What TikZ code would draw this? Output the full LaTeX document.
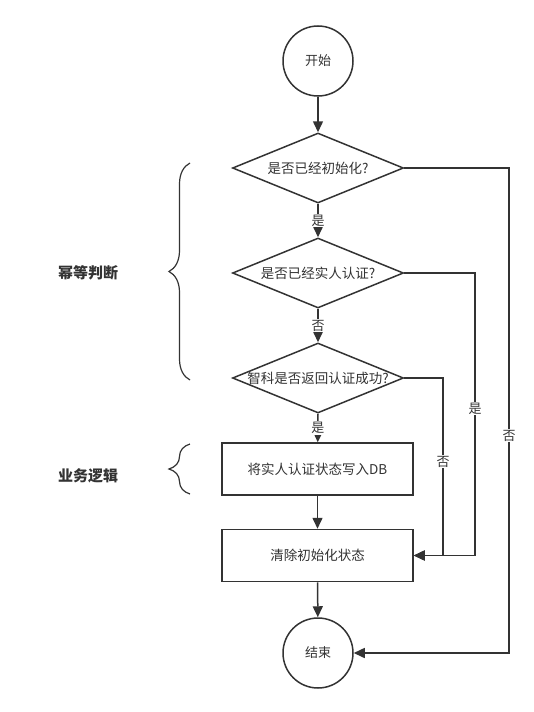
\documentclass[tikz,border=0pt]{standalone}
\usepackage{fontspec}
\setmainfont{Noto Sans CJK SC}
\usetikzlibrary{positioning,shapes.geometric,arrows.meta,decorations.pathreplacing}
\definecolor{ink}{HTML}{333333}
\definecolor{surf}{HTML}{FFFFFF}
\tikzset{
  term/.style   = {circle, draw=ink, fill=surf, line width=1.5pt, minimum size=70pt, inner sep=0pt, font=\fontsize{13}{15}\selectfont\color{ink}},
  decide/.style = {diamond, aspect=2.44, draw=ink, fill=surf, line width=1.5pt, minimum width=171pt, minimum height=70pt, inner sep=0pt, font=\fontsize{13.5}{15}\selectfont\color{ink}},
  proc/.style   = {rectangle, draw=ink, fill=surf, line width=1.5pt, minimum width=191pt, minimum height=52pt, inner sep=0pt, font=\fontsize{13.5}{15}\selectfont\color{ink}},
  flow/.style   = {-{Triangle[length=11pt,width=10pt]}, draw=ink, line width=1.5pt},
  cond/.style   = {fill=surf, inner sep=1pt, font=\fontsize{13}{15}\selectfont\color{ink}},
  grp/.style    = {font=\fontsize{15}{17}\selectfont\bfseries\color{ink}, inner sep=0pt},
  curly/.style  = {draw=ink, line width=1.2pt, decorate, decoration={brace, amplitude=21pt, aspect=0.5}},
}
\newcommand{\qtext}[1]{\makebox[0pt]{#1}}
\begin{document}
\begin{tikzpicture}[x=1pt,y=-1pt]
\path[use as bounding box] (0,0) rectangle (533,712);

% ---- main column --------------------------------------------------------
\node[term]   (start) at (318,61)    {开始};
\node[decide] (init)  at (318,168)   {\qtext{是否已经初始化?}};
\node[decide] (auth)  at (318,273)   {\qtext{是否已经实人认证?}};
\node[decide] (zhike) at (318,378)   {\qtext{智科是否返回认证成功?}};
\node[proc]   (write) at (317.5,469) {将实人认证状态写入DB};
\node[proc]   (clear) at (317.5,555.5) {清除初始化状态};
\node[term]   (stop)  at (318,653)   {结束};

\draw[flow] (start) -- (init.north);
\draw[flow] (init.south)  -- node[cond] {是} (auth.north);
\draw[flow] (auth.south)  -- node[cond] {否} (zhike.north);
\draw[flow] (zhike.south) -- node[cond] {是} (write);
\draw[flow] (write) -- (clear);
\draw[flow] (clear) -- (stop);

% ---- side returns -------------------------------------------------------
\coordinate (r1) at (509,168);
\coordinate (r2) at (475,273);
\coordinate (r3) at (443,378);
\draw[flow] (init.east)  -- (r1) |- node[cond, pos=0.276] {否} (stop.east);
\draw[flow] (auth.east)  -- (r2) |- node[cond, pos=0.24] {是} (clear.east);
\draw[flow] (zhike.east) -- (r3) |- node[cond, pos=0.236] {否} (clear.east);

% ---- groups -------------------------------------------------------------
\draw[curly] (190,380) -- (190,163);
\draw[curly] (190,494) -- (190,444);
\node[grp] (idem) at (88,273) {幂等判断};
\node[grp] (biz)  at (88,476) {业务逻辑};

\end{tikzpicture}
\end{document}
